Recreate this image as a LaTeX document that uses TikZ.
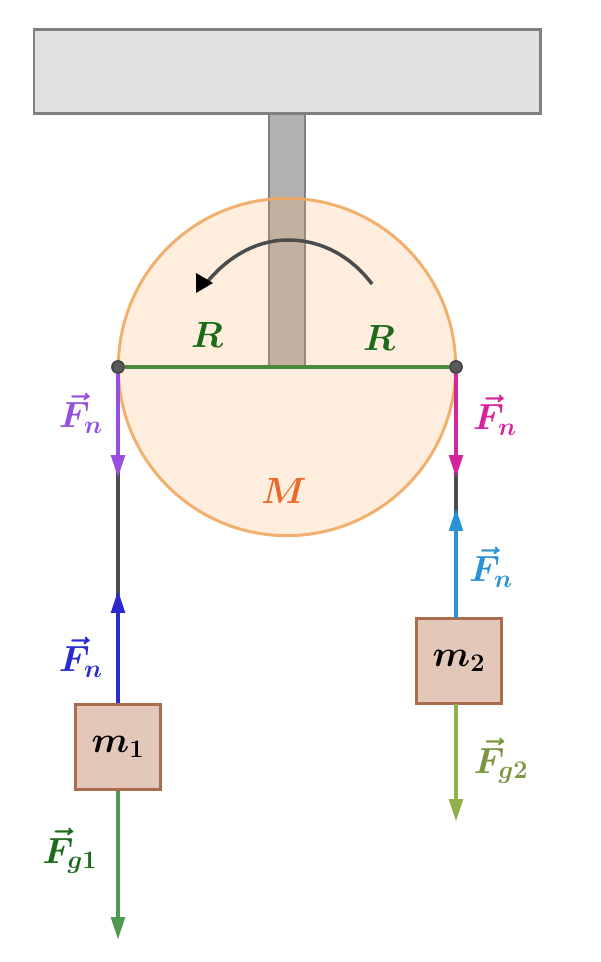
\documentclass[tikz,border=0pt]{standalone}
\usepackage{amsmath}
\usetikzlibrary{arrows.meta}

\definecolor{plate}{HTML}{E0E0E0}
\definecolor{rim}{HTML}{F0A860}
\definecolor{disc}{HTML}{FFB066}
\definecolor{boxfill}{HTML}{E3C8BA}
\definecolor{boxline}{HTML}{A96C4C}
\definecolor{radline}{HTML}{4A8A3A}
\definecolor{rtext}{HTML}{1B6B1B}
\definecolor{mtext}{HTML}{EA6A2C}
\definecolor{fpurple}{HTML}{9650E0}
\definecolor{fpink}{HTML}{D6249F}
\definecolor{fsky}{HTML}{2A93D5}
\definecolor{fblue}{HTML}{2A2AD0}
\definecolor{fgreen}{HTML}{4F9A50}
\definecolor{folive}{HTML}{8FB04A}

\tikzset{
  label/.style={inner sep=0pt,font=\fontsize{22}{22}\selectfont\boldmath},
  mass/.style={draw=boxline,fill=boxfill,line width=1.8pt,minimum size=48pt,inner sep=0pt,
    font=\fontsize{22}{22}\selectfont\boldmath},
  pin/.style={circle,draw=black!75,fill=black!65,line width=0.8pt,minimum size=7pt,inner sep=0pt},
  force/.style={line width=2.5pt,-{Triangle[length=13pt,width=7.5pt]}},
  rope/.style={line width=2.1pt,black!70}
}

\begin{document}
\begin{tikzpicture}[x=0.02cm,y=-0.02cm]
\useasboundingbox (0,0) rectangle (600,962);

    % support and rod
    \node[draw=black!50,fill=plate,line width=1.7pt,minimum width=288pt,minimum height=48pt,inner sep=0pt] (plate) at (287,71.5) {};
    \draw[draw=black!50,fill=black!30,line width=1.7pt] (269,114) rectangle (305,367);

    % pulley
    \node[circle,draw=rim,fill=disc,fill opacity=0.22,draw opacity=0.9,line width=1.7pt,minimum size=192pt,inner sep=0pt] (pulley) at (287,367) {};

    \node[pin] (left) at (118,367) {};
    \node[pin] (right) at (456,367) {};
    \draw[radline,line width=2.1pt] (left) -- (right);

    % sense of rotation
    \coordinate (arcstart) at (372,284);
    \coordinate (arcend) at (208,281);
    \draw[black!70,line width=2pt] (arcstart) .. controls (350,255) and (320,240) .. (288,240) .. controls (258,240) and (230,255) .. (arcend);
    \fill[black] (196,273) -- (213,283) -- (196,293) -- cycle;

    \node[mass] (m1) at (118,747) {$m_1$};
    \node[mass] (m2) at (459,661) {$m_2$};

    \coordinate (leftmid) at (118,478);
    \coordinate (leftup) at (118,590);
    \coordinate (rightmid) at (456,478);
    \coordinate (rightup) at (456,508);
    \coordinate (m2top) at (456,618);
    \coordinate (m2bot) at (456,704);
    \coordinate (g1end) at (118,940);
    \coordinate (g2end) at (456,822);

    % ropes first, forces over them
    \draw[rope] (left) -- (m1.north);
    \draw[rope] (right) -- (m2top);

    \draw[force,fpurple] (left) -- (leftmid);
    \draw[force,fpink] (right) -- (rightmid);
    \draw[force,fblue] (m1.north) -- (leftup);
    \draw[force,fsky] (m2top) -- (rightup);
    \draw[force,fgreen] (m1.south) -- (g1end);
    \draw[force,folive] (m2bot) -- (g2end);

    \node[label,text=rtext] (rleft) at (207,335) {$R$};
    \node[label,text=rtext] (rright) at (379,338) {$R$};
    \node[label,text=mtext] (mlabel) at (284,491) {$M$};
    \node[label,text=fpurple] (fn1) at (81,413) {$\vec{F}_n$};
    \node[label,text=fpink] (fn2) at (495,415) {$\vec{F}_n$};
    \node[label,text=fsky] (fn3) at (491,567) {$\vec{F}_n$};
    \node[label,text=fblue] (fn4) at (81,657) {$\vec{F}_n$};
    \node[label,text=rtext] (fg1) at (70,851) {$\vec{F}_{g1}$};
    \node[label,text=folive!85!black] (fg2) at (501,761) {$\vec{F}_{g2}$};
\end{tikzpicture}
\end{document}
